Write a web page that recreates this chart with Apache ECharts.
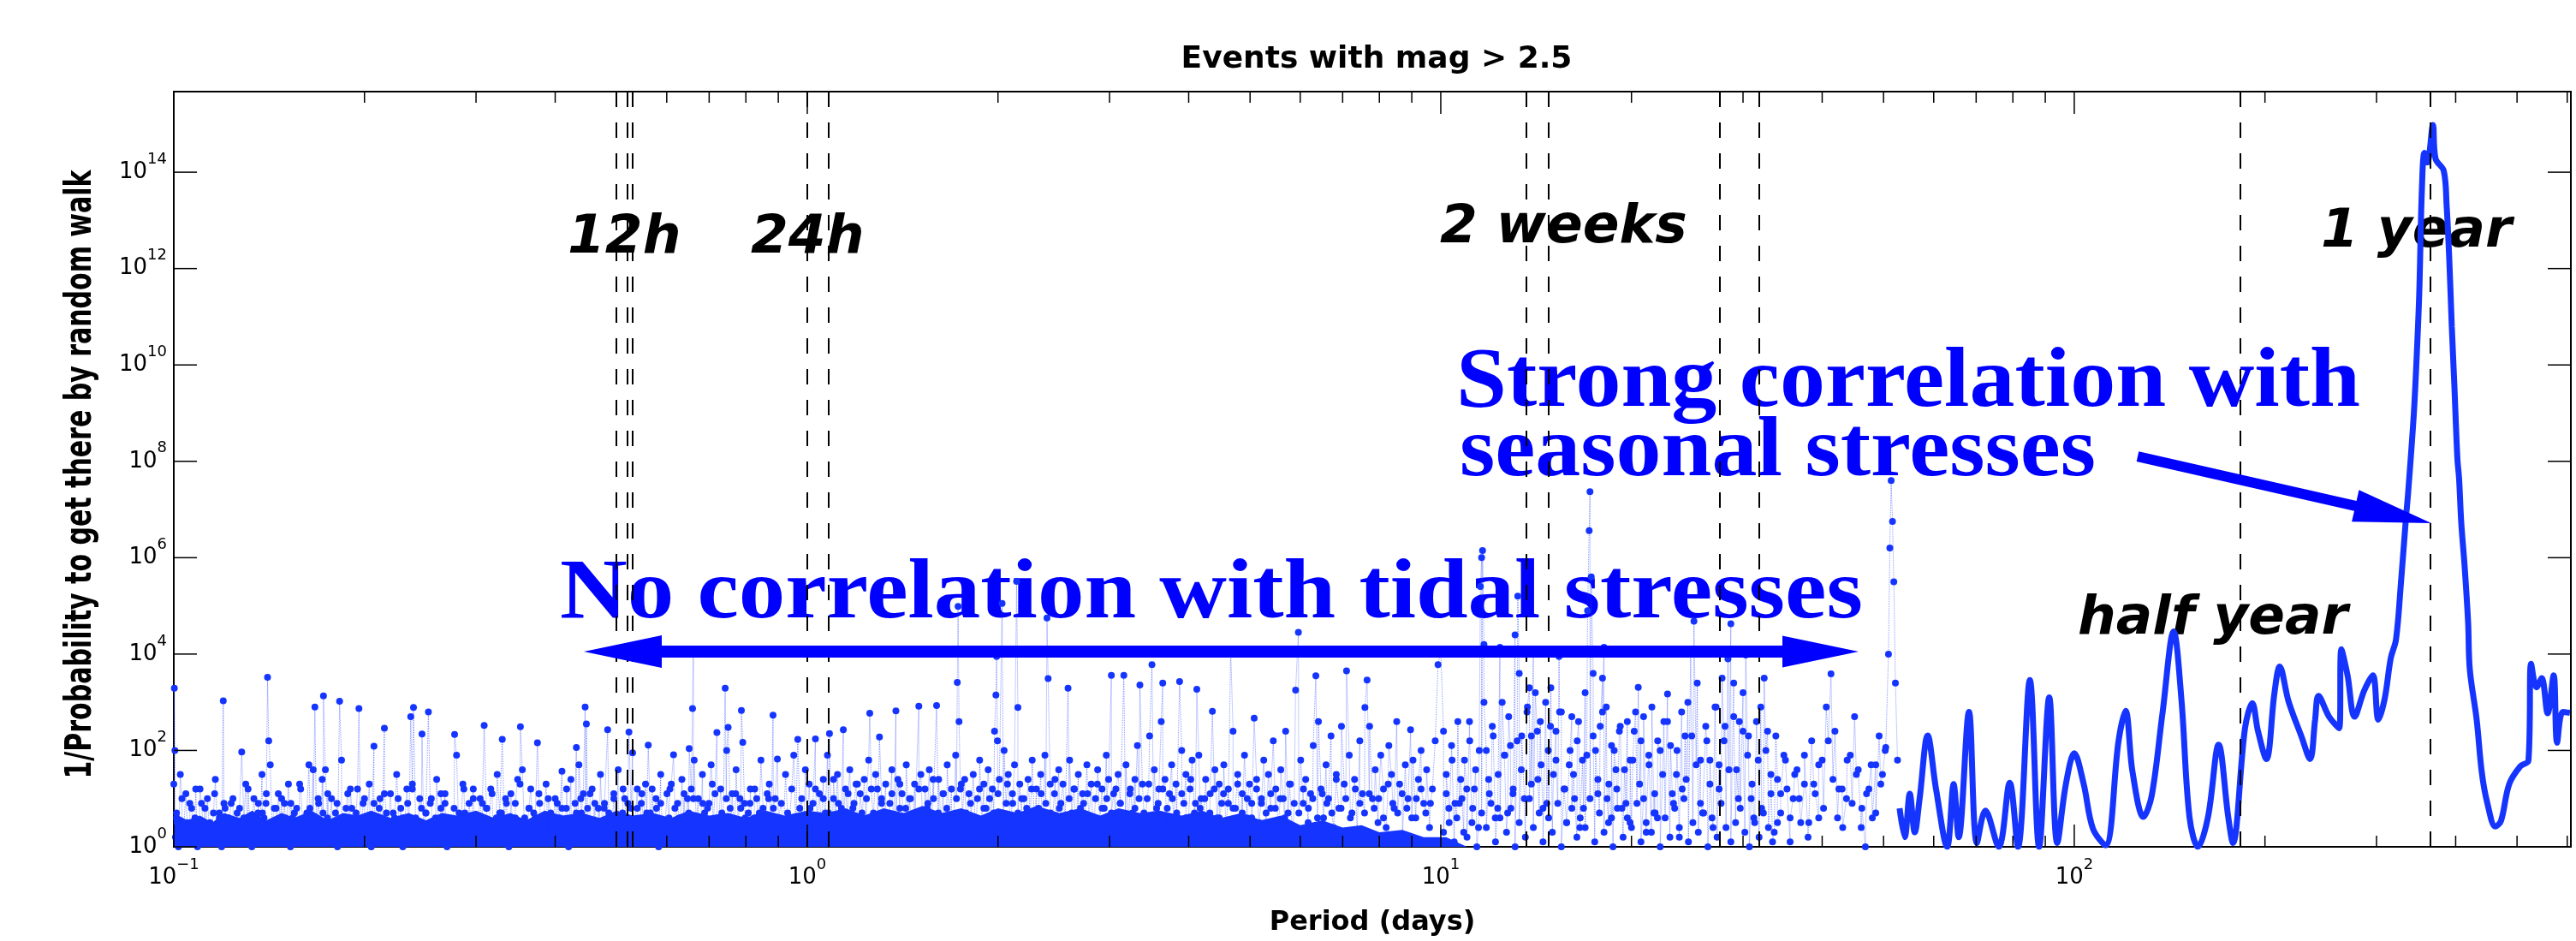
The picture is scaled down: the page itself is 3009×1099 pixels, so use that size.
<!DOCTYPE html>
<html lang="en">
<head>
  <meta charset="UTF-8">
  <title>Events with mag > 2.5</title>
  <script src="https://cdn.jsdelivr.net/npm/echarts@6/dist/echarts.min.js"></script>
  <style>
    html, body { margin: 0; padding: 0; background: #fff; }
    #main { width: 3009px; height: 1099px; }
  </style>
</head>
<body>

<div id="main"></div>

<script>
  // [period in days, log10 of 1/probability]
  var noiseShort = [
    [0.1000,1.3],[0.1002,3.29],[0.1004,2.0],[0.1006,0.2],[0.1010,0.6],[0.1017,0.0],[0.1024,1.5],[0.1031,0.3],[0.1038,0.5],[0.1045,1.1],
    [0.1052,0.1],[0.1060,0.4],[0.1067,0.8],[0.1075,0.2],[0.1083,1.2],[0.1090,0.0],[0.1098,0.5],[0.1106,0.9],[0.1114,0.3],[0.1122,0.1],
    [0.1130,1.0],[0.1138,0.4],[0.1146,0.2],[0.1155,0.7],[0.1163,1.4],[0.1172,0.3],[0.1180,0.6],[0.1190,0.0],[0.1197,3.03],[0.1205,0.8],
    [0.1214,0.2],[0.1223,0.5],[0.1232,0.9],[0.1241,0.1],[0.1250,0.4],[0.1259,0.7],[0.1268,0.3],[0.1280,1.97],[0.1290,0.6],[0.1299,1.3],
    [0.1309,0.2],[0.1318,0.5],[0.1328,0.0],[0.1338,1.0],[0.1348,0.4],[0.1358,0.7],[0.1368,0.2],[0.1378,1.5],[0.1388,0.6],[0.1398,0.9],
    [0.1406,3.52],[0.1412,2.2],[0.1420,1.7],[0.1430,0.3],[0.1441,0.8],[0.1452,0.1],[0.1462,1.1],[0.1473,0.5],[0.1484,0.2],[0.1495,0.9],
    [0.1506,0.4],[0.1517,1.3],[0.1528,0.0],[0.1540,0.6],[0.1551,0.3],[0.1563,0.8],[0.1574,0.1],[0.1586,1.2],[0.1598,0.5],[0.1610,0.2],
    [0.1622,0.7],[0.1634,1.7],[0.1646,0.4],[0.1660,1.6],[0.1670,2.9],[0.1680,0.3],[0.1693,0.9],[0.1706,0.1],[0.1715,1.4],[0.1723,3.13],
    [0.1735,1.6],[0.1748,0.6],[0.1761,0.2],[0.1774,1.0],[0.1787,0.4],[0.1800,0.7],[0.1813,0.0],[0.1827,3.02],[0.1840,1.8],[0.1854,0.5],
    [0.1868,0.2],[0.1882,1.1],[0.1896,0.3],[0.1910,0.8],[0.1924,0.1],[0.1938,0.6],[0.1950,1.2],[0.1960,2.87],[0.1975,0.4],[0.1990,0.9],
    [0.2005,0.2],[0.2020,0.6],[0.2035,1.3],[0.2050,0.0],[0.2070,2.09],[0.2085,0.5],[0.2100,0.3],[0.2116,1.0],[0.2132,0.1],[0.2150,2.46],
    [0.2166,0.7],[0.2182,0.4],[0.2198,1.1],[0.2215,0.2],[0.2231,0.6],[0.2248,1.5],[0.2265,0.3],[0.2282,0.8],[0.2299,0.0],[0.2316,0.5],
    [0.2333,1.2],[0.2350,0.2],[0.2366,2.70],[0.2380,1.3],[0.2390,2.89],[0.2408,0.6],[0.2426,0.3],[0.2445,1.0],[0.2465,2.34],[0.2480,0.4],
    [0.2500,0.7],[0.2523,2.80],[0.2540,0.9],[0.2560,0.1],[0.2580,0.5],[0.2600,1.4],[0.2620,0.2],[0.2640,0.8],[0.2660,0.4],[0.2680,1.1],
    [0.2700,0.0],[0.2720,0.6],[0.2745,0.3],[0.2775,2.33],[0.2795,1.9],[0.2815,0.5],[0.2835,0.2],[0.2860,1.3],[0.2880,0.7],[0.2900,0.1],
    [0.2925,0.9],[0.2950,0.4],[0.2970,1.2],[0.2995,0.2],[0.3020,0.6],[0.3045,1.0],[0.3070,0.3],[0.3090,2.52],[0.3115,0.8],[0.3140,0.1],
    [0.3165,1.2],[0.3190,0.5],[0.3215,0.2],[0.3240,1.5],[0.3270,0.7],[0.3300,2.23],[0.3325,0.4],[0.3350,0.9],[0.3380,0.0],[0.3405,1.1],
    [0.3430,0.3],[0.3460,0.6],[0.3490,1.4],[0.3525,2.49],[0.3550,1.6],[0.3575,0.5],[0.3605,0.2],[0.3635,0.8],[0.3660,1.2],[0.3690,0.3],
    [0.3720,0.6],[0.3750,2.16],[0.3780,0.9],[0.3810,0.2],[0.3840,0.5],[0.3870,1.3],[0.3900,0.1],[0.3935,0.7],[0.3965,0.4],[0.4000,1.0],
    [0.4030,0.2],[0.4065,0.6],[0.4100,1.57],[0.4130,0.3],[0.4165,0.8],[0.4200,0.0],[0.4235,1.4],[0.4270,0.5],[0.4300,0.9],[0.4320,2.06],
    [0.4345,0.4],[0.4360,1.7],[0.4400,0.7],[0.4430,1.1],[0.4460,2.90],[0.4480,2.55],[0.4500,0.8],[0.4540,0.3],[0.4575,1.2],[0.4610,0.5],
    [0.4645,0.1],[0.4680,0.8],[0.4715,1.5],[0.4750,0.4],[0.4785,0.9],[0.4840,2.43],[0.4875,0.6],[0.4910,0.2],[0.4950,1.1],[0.4990,0.4],
    [0.5030,1.6],[0.5070,0.3],[0.5110,0.7],[0.5150,1.0],[0.5190,0.2],[0.5230,2.38],[0.5270,0.8],[0.5300,1.95],[0.5350,0.5],[0.5390,1.2],
    [0.5430,0.1],[0.5470,0.9],[0.5510,0.4],[0.5555,1.3],[0.5610,2.11],[0.5650,0.7],[0.5690,1.2],[0.5730,0.3],[0.5780,0.8],[0.5825,0.0],
    [0.5870,1.5],[0.5915,0.5],[0.5960,0.2],[0.6005,1.1],[0.6050,0.6],[0.6100,1.3],[0.6150,1.91],[0.6195,0.4],[0.6240,0.9],[0.6290,0.2],
    [0.6340,1.4],[0.6385,0.6],[0.6430,0.3],[0.6470,1.0],[0.6510,2.04],[0.6560,1.2],[0.6590,2.87],[0.6610,4.07],[0.6630,1.8],[0.6680,0.5],
    [0.6730,1.0],[0.6780,0.2],[0.6830,1.5],[0.6885,0.7],[0.6940,0.3],[0.6995,0.9],[0.7050,1.7],[0.7100,0.4],[0.7150,1.1],[0.7200,2.37],
    [0.7250,0.6],[0.7300,1.2],[0.7360,0.2],[0.7420,3.29],[0.7460,2.0],[0.7500,2.48],[0.7555,0.8],[0.7610,1.1],[0.7665,0.3],[0.7720,1.6],
    [0.7780,0.5],[0.7830,1.0],[0.7870,2.83],[0.7910,2.17],[0.7960,0.9],[0.8020,0.3],[0.8070,0.7],[0.8130,1.2],[0.8190,0.1],[0.8250,0.6],
    [0.8320,1.0],[0.8385,0.4],[0.8450,1.8],[0.8515,0.8],[0.8580,0.4],[0.8645,1.1],[0.8710,1.3],[0.8770,0.2],[0.8830,2.73],[0.8900,1.0],
    [0.8970,1.82],[0.9040,0.6],[0.9100,0.9],[0.9170,0.3],[0.9240,1.5],[0.9310,0.7],[0.9380,0.6],[0.9450,1.2],[0.9520,1.9],[0.9590,0.4],
    [0.9660,2.23],[0.9730,0.8],[0.9800,1.0],[0.9870,0.2],[0.9930,1.6]
  ];

  var noiseMid = [
    [1.000,0.5],[1.007,1.3],[1.014,0.2],[1.021,0.9],[1.030,2.24],[1.037,0.6],[1.045,1.1],[1.052,0.3],[1.060,1.4],[1.068,0.7],
    [1.076,1.9],[1.084,2.35],[1.092,0.4],[1.100,1.0],[1.108,0.6],[1.116,1.5],[1.124,0.2],[1.132,0.8],[1.140,2.43],[1.149,1.2],
    [1.158,0.5],[1.167,1.6],[1.176,0.3],[1.185,0.9],[1.194,1.3],[1.203,0.1],[1.212,1.1],[1.221,0.6],[1.230,1.4],[1.240,0.4],
    [1.250,1.8],[1.255,2.77],[1.262,1.2],[1.272,0.7],[1.282,1.5],[1.292,0.3],[1.300,2.28],[1.310,1.0],[1.320,0.6],[1.330,1.3],
    [1.340,0.2],[1.350,0.9],[1.360,1.6],[1.370,0.5],[1.380,2.82],[1.390,1.4],[1.400,0.8],[1.411,1.1],[1.422,0.3],[1.433,1.7],
    [1.444,0.6],[1.455,1.0],[1.466,0.2],[1.477,1.3],[1.488,0.7],[1.500,2.92],[1.511,1.5],[1.522,0.4],[1.534,1.2],[1.546,0.8],
    [1.558,1.6],[1.570,0.3],[1.582,1.0],[1.600,2.93],[1.612,1.4],[1.625,0.5],[1.638,1.1],[1.650,0.2],[1.663,1.7],[1.676,0.6],
    [1.689,1.2],[1.702,0.4],[1.715,1.9],[1.725,3.41],[1.730,4.99],[1.736,2.6],[1.745,1.2],[1.758,0.7],[1.772,1.4],[1.786,0.3],
    [1.800,1.1],[1.814,0.6],[1.828,1.5],[1.842,0.2],[1.856,1.0],[1.871,1.8],[1.886,0.5],[1.900,1.3],[1.915,0.8],[1.930,1.6],
    [1.945,0.4],[1.960,1.2],[1.975,2.4],[1.985,3.15],[1.990,3.95],[1.996,2.2],[2.010,1.4],[2.030,5.05],[2.045,2.0],[2.060,0.9],
    [2.076,1.5],[2.092,0.3],[2.108,1.1],[2.124,1.7],[2.140,5.51],[2.150,2.89],[2.165,1.3],[2.180,0.6],[2.197,1.0],[2.214,0.2],
    [2.231,1.4],[2.248,0.7],[2.265,1.8],[2.283,0.4],[2.300,1.2],[2.318,0.8],[2.336,1.5],[2.354,0.3],[2.372,1.9],[2.390,4.75],
    [2.400,3.49],[2.418,1.3],[2.437,0.6],[2.456,1.1],[2.475,0.2],[2.494,1.6],[2.513,0.9],[2.533,1.3],[2.553,0.5],[2.580,3.29],
    [2.595,1.8],[2.615,0.7],[2.636,1.2],[2.657,0.3],[2.678,1.5],[2.699,0.8],[2.720,1.1],[2.741,0.4],[2.763,1.7],[2.785,0.6],
    [2.807,1.3],[2.829,0.2],[2.851,1.0],[2.873,1.6],[2.896,0.5],[2.919,1.2],[2.942,0.8],[2.965,1.9],[2.990,1.4],[3.020,3.56],
    [3.045,1.1],[3.070,0.6],[3.095,1.5],[3.120,0.9],[3.160,3.56],[3.185,1.7],[3.210,0.4],[3.235,1.2],[3.260,0.7],[3.290,1.4],
    [3.320,2.1],[3.350,3.36],[3.380,1.3],[3.410,0.5],[3.440,1.0],[3.470,2.3],[3.500,3.78],[3.530,1.6],[3.560,0.8],[3.590,1.2],
    [3.620,2.6],[3.640,3.40],[3.670,1.4],[3.700,0.3],[3.730,1.1],[3.760,1.7],[3.790,0.6],[3.820,1.3],[3.870,3.43],[3.900,2.0],
    [3.930,0.9],[3.960,1.5],[3.990,0.4],[4.020,1.2],[4.050,1.8],[4.085,0.7],[4.120,3.27],[4.150,1.9],[4.185,1.0],[4.220,0.5],
    [4.255,1.4],[4.290,0.2],[4.325,1.1],[4.360,2.81],[4.400,1.6],[4.435,0.6],[4.470,1.3],[4.510,0.9],[4.545,1.7],[4.580,0.3],
    [4.620,1.2],[4.660,4.10],[4.700,2.4],[4.740,0.8],[4.780,1.5],[4.820,0.4],[4.860,1.1],[4.900,1.9],[4.945,0.6],[4.990,1.3],
    [5.030,0.9],[5.075,2.67],[5.120,1.4],[5.165,0.5],[5.210,1.0],[5.255,1.8],[5.300,0.3],[5.345,1.5],[5.390,0.8],[5.440,2.2],
    [5.490,1.2],[5.540,0.4],[5.590,1.6],[5.640,1.0],[5.690,2.4],[5.740,0.7],[5.790,1.3],[5.840,0.2],[5.900,3.25],[5.960,4.45],
    [6.010,1.8],[6.065,0.9],[6.120,1.4],[6.175,0.5],[6.230,1.1],[6.290,2.1],[6.350,3.55],[6.410,2.6],[6.470,1.2],[6.530,0.6],
    [6.590,1.7],[6.650,1.0],[6.710,2.3],[6.775,0.4],[6.840,1.5],[6.905,0.8],[6.970,2.5],[7.040,1.3],[7.100,3.65],[7.170,1.9],
    [7.240,0.7],[7.310,1.4],[7.380,0.3],[7.450,2.2],[7.520,1.1],[7.590,2.89],[7.650,3.46],[7.720,2.5],[7.800,1.0],[7.880,1.6],
    [7.960,0.5],[8.040,1.9],[8.120,1.2],[8.200,0.4],[8.280,2.1],[8.360,1.5],[8.440,0.8],[8.520,2.6],[8.610,1.3],[8.700,0.2],
    [8.790,1.7],[8.880,1.0],[8.960,2.43],[9.040,1.8],[9.130,0.6],[9.220,1.4],[9.310,2.0],[9.400,0.9],[9.500,1.6],[9.600,0.4],
    [9.700,1.2],[9.800,2.2],[9.900,3.78],[10.00,4.10]
  ];

  var noiseLong = [
    [10.10,2.4],[10.20,1.1],[10.31,0.5],[10.42,1.8],[10.53,0.9],[10.64,2.6],[10.75,1.4],[10.87,0.3],[10.99,1.2],[11.11,2.2],
    [11.23,0.8],[11.35,1.6],[11.47,0.4],[11.55,5.4],[11.60,6.0],[11.64,6.15],[11.70,4.2],[11.80,2.0],[11.93,1.1],[12.06,2.5],
    [12.19,0.6],[12.32,1.5],[12.40,4.14],[12.50,3.0],[12.62,1.9],[12.75,0.7],[12.88,2.1],[13.01,1.2],[13.10,4.4],[13.23,5.20],
    [13.30,3.6],[13.42,2.3],[13.55,1.0],[13.68,2.8],[13.80,3.3],[13.90,2.3],[14.00,4.02],[14.10,3.2],[14.23,1.4],[14.36,2.6],
    [14.50,0.8],[14.64,3.0],[14.78,2.0],[14.92,3.3],[15.06,1.5],[15.20,2.4],[15.37,3.95],[15.50,2.8],[15.65,1.2],[15.80,0.5],
    [15.95,1.7],[16.10,2.7],[16.26,1.0],[16.42,2.2],[16.58,0.4],[16.74,1.8],[16.90,3.2],[17.05,4.9],[17.15,6.56],[17.20,7.37],
    [17.28,5.6],[17.40,3.6],[17.55,2.0],[17.70,1.1],[17.85,2.5],[18.00,3.5],[18.10,4.14],[18.25,2.9],[18.42,1.3],[18.60,0.6],
    [18.78,2.0],[18.96,1.2],[19.14,2.4],[19.32,0.8],[19.50,1.6],[19.70,2.6],[19.90,0.5],[20.10,1.8],[20.30,2.8],[20.50,3.31],
    [20.70,2.2],[20.90,1.0],[21.10,0.3],[21.32,1.7],[21.54,2.9],[21.76,1.1],[21.98,0.6],[22.20,2.0],[22.50,2.6],[22.80,3.17],
    [23.05,2.1],[23.30,0.9],[23.55,1.5],[23.80,0.2],[24.05,1.2],[24.30,2.3],[24.55,3.0],[24.80,4.0],[25.10,4.68],[25.40,3.4],
    [25.70,1.8],[26.00,0.7],[26.30,2.2],[26.60,1.3],[26.90,0.4],[27.20,2.9],[27.50,1.7],[27.80,3.5],[28.10,2.5],[28.40,3.9],
    [28.70,4.63],[29.00,3.4],[29.30,1.6],[29.60,2.6],[30.00,3.2],[30.30,3.98],[30.60,2.3],[30.90,1.0],[31.30,0.5],[31.70,1.8],
    [32.00,2.9],[32.40,3.50],[32.80,2.4],[33.20,1.1],[33.60,0.3],[34.00,1.4],[34.40,0.7],[34.80,1.9],[35.20,1.2],[35.60,0.1],
    [36.00,1.0],[36.50,1.6],[37.00,0.5],[37.50,1.3],[38.00,0.2],[38.50,2.2],[39.00,1.1],[39.50,0.6],[40.00,1.8],[40.60,2.9],
    [41.30,3.59],[41.90,2.4],[42.50,1.2],[43.10,0.4],[43.70,1.0],[44.30,1.9],[45.00,2.70],[45.60,1.6],[46.20,0.8],[46.80,0.0],
    [47.40,1.2],[48.00,0.6],[48.60,1.7],[49.20,2.3],[49.80,1.5],[50.40,2.06],[50.90,4.0],[51.15,6.2],[51.40,7.60],[51.65,6.75],
    [51.90,5.5],[52.20,3.4],[52.60,1.8]
  ];

  // the crowded upper edge of the point cloud (periods, log10 values)
  var floorShortPeriods = [0.101,0.103,0.105,0.106,0.108,0.110,0.112,0.114,0.116,0.118,0.120,0.122,0.124,0.127,0.129,0.131,0.133,0.136,0.138,0.140,
    0.143,0.145,0.148,0.150,0.153,0.155,0.158,0.161,0.164,0.166,0.169,0.172,0.175,0.178,0.181,0.184,0.187,0.190,0.194,0.197,
    0.200,0.204,0.207,0.211,0.215,0.218,0.222,0.226,0.230,0.234,0.238,0.242,0.246,0.250,0.255,0.259,0.264,0.268,0.273,0.277,
    0.282,0.287,0.292,0.297,0.302,0.307,0.312,0.318,0.323,0.329,0.334,0.340,0.346,0.352,0.358,0.364,0.370,0.377,0.383,0.390,
    0.396,0.403,0.410,0.417,0.424,0.432,0.439,0.447,0.454,0.462,0.470,0.478,0.486,0.495,0.503,0.512,0.521,0.530,0.539,0.548,
    0.558,0.567,0.577,0.587,0.597,0.607,0.618,0.628,0.639,0.650,0.661,0.673,0.684,0.696,0.708,0.720,0.733,0.745,0.758,0.771,
    0.785,0.798,0.812,0.826,0.840,0.855,0.869,0.884,0.900,0.915,0.931,0.947,0.963,0.980,0.997];
  var floorShortLog = [0.7,1.0,0.5,0.9,0.6,1.2,0.8,0.5,1.1,0.7,
    0.9,0.6,1.0,0.8,0.5,1.2,0.6,0.9,0.7,1.1,
    0.5,0.8,1.0,0.6,0.9,0.7,1.3,0.5,0.8,0.6,
    1.0,0.7,1.1,0.5,0.9,0.6,0.8,1.2,0.7,0.5,
    1.0,0.6,0.9,0.8,1.1,0.5,0.7,1.0,0.6,0.9,
    1.2,0.5,0.8,0.7,1.0,0.6,1.1,0.9,0.5,0.8,
    0.7,1.2,0.6,1.0,0.5,0.9,0.8,1.1,0.6,0.7,
    1.0,0.5,0.9,1.3,0.6,0.8,0.7,1.1,0.5,1.0,
    0.6,0.9,0.8,1.2,0.5,0.7,1.0,0.6,1.1,0.9,
    0.5,0.8,0.7,1.0,0.6,1.2,0.9,0.5,0.8,1.1,
    0.7,0.6,1.0,0.9,0.5,1.2,0.8,0.6,1.1,0.7,
    1.0,0.5,0.9,0.8,1.3,0.6,0.7,1.0,0.5,1.1,
    0.8,0.6,0.9,1.2,0.7,0.5,1.0,0.8,0.6];

  var floorMidPeriods = [1.01,1.03,1.05,1.06,1.08,1.10,1.12,1.14,1.16,1.18,1.20,1.22,1.24,1.27,1.29,1.31,1.33,1.36,1.38,1.40,
    1.43,1.45,1.48,1.50,1.53,1.55,1.58,1.61,1.64,1.66,1.69,1.72,1.75,1.78,1.81,1.84,1.87,1.90,1.94,1.97,
    2.00,2.04,2.07,2.11,2.15,2.18,2.22,2.26,2.30,2.34,2.38,2.42,2.46,2.50,2.55,2.59,2.64,2.68,2.73,2.77,
    2.82,2.87,2.92,2.97,3.02,3.07,3.12,3.18,3.23,3.29,3.34,3.40,3.46,3.52,3.58,3.64,3.70,3.77,3.83,3.90,
    3.96,4.03,4.10,4.17,4.24,4.32,4.39,4.47,4.54,4.62,4.70,4.78,4.86,4.95,5.03,5.12,5.21,5.30,5.39,5.48,
    5.58,5.67,5.77,5.87,5.97,6.07,6.18,6.28,6.39,6.50,6.61,6.73,6.84,6.96,7.08,7.20,7.33,7.45,7.58,7.71,
    7.85,7.98,8.12,8.26,8.40,8.55,8.69,8.84,9.00,9.15,9.31,9.47,9.63,9.80,9.97];
  var floorMidLog = [0.8,1.2,0.6,1.0,0.7,1.4,0.9,0.6,1.1,0.8,
    1.3,0.7,1.0,0.6,1.2,0.9,0.7,1.1,0.6,1.3,
    0.8,1.0,0.7,1.2,0.6,0.9,1.4,0.7,1.1,0.8,
    0.6,1.0,1.3,0.7,0.9,0.6,1.2,0.8,1.0,0.7,
    1.1,0.6,1.3,0.9,0.7,1.0,0.8,1.2,0.6,1.1,
    0.9,0.7,1.4,0.8,0.6,1.0,1.2,0.7,0.9,1.1,
    0.6,1.3,0.8,1.0,0.7,1.2,0.9,0.6,1.1,0.8,
    1.0,0.7,1.3,0.6,0.9,1.2,0.8,1.0,0.7,1.1,
    0.6,1.4,0.9,0.8,1.0,0.7,1.2,0.6,1.1,0.9,
    0.8,1.3,0.7,1.0,0.6,1.2,0.9,0.7,1.1,0.8,
    1.0,0.6,1.3,0.9,0.7,1.2,0.8,1.0,0.6,1.1,
    0.9,0.7,1.4,0.8,1.0,0.6,1.2,0.9,0.7,1.1,
    0.8,1.0,0.6,1.3,0.9,0.7,1.1,0.8,0.6,1.0,
    1.2,0.7,0.9];

  var floorLongPeriods = [10.1,10.3,10.5,10.6,10.8,11.0,11.2,11.4,11.6,11.8,12.0,12.2,12.4,12.7,12.9,13.1,13.3,13.6,13.8,14.0,
    14.3,14.5,14.8,15.0,15.3,15.5,15.8,16.1,16.4,16.6,16.9,17.2,17.5,17.8,18.1,18.4,18.7,19.0,19.4,19.7,
    20.0,20.4,20.7,21.1,21.5,21.8,22.2,22.6,23.0,23.4,23.8,24.2,24.6,25.0,25.5,25.9,26.4,26.8,27.3,27.7,
    28.2,28.7,29.2,29.7,30.2,30.7,31.2,31.8,32.3,32.9,33.4,34.0];
  var floorLongLog = [0.3,0.8,0.1,0.6,1.0,0.2,0.5,0.0,0.7,0.4,0.9,0.1,0.6,0.3,0.8,0.0,0.5,0.2,1.0,0.4,
    0.7,0.1,0.6,0.3,0.9,0.0,0.5,0.8,0.2,0.6,0.4,1.0,0.1,0.7,0.3,0.5,0.0,0.8,0.2,0.6,
    0.4,0.9,0.1,0.5,0.3,0.7,0.0,0.6,0.2,0.8,0.4,1.0,0.1,0.5,0.3,0.7,0.0,0.6,0.2,0.9,
    0.4,0.1,0.5,0.8,0.3,0.0,0.6,0.2,0.7,0.4,0.1,0.5];

  // dot chains between 10 and 50 days (periods, log10 values)
  var chainLongPeriods = [10.2,10.4,10.7,10.9,11.1,11.3,11.5,11.7,11.9,12.1,12.3,12.6,12.8,13.0,13.2,13.4,13.7,13.9,14.2,14.4,
    14.7,14.9,15.2,15.4,15.7,16.0,16.2,16.5,16.8,17.0,17.4,17.7,18.0,18.3,18.6,18.9,19.2,19.6,19.9,20.2,
    20.6,20.9,21.3,21.7,22.0,22.4,22.8,23.2,23.6,24.0,24.4,24.9,25.3,25.7,26.2,26.6,27.1,27.5,28.0,28.5,
    29.0,29.5,30.0,30.5,31.0,31.5,32.1,32.6,33.2,33.8,34.4,35.0,35.6,36.2,36.8,37.5,38.1,38.8,39.5,40.2,
    40.9,41.6,42.3,43.0,43.8,44.6,45.3,46.1,47.0,47.8,48.6,49.5,50.3];
  var chainLongLog = [1.5,2.1,0.9,1.8,2.6,1.2,2.0,3.0,1.4,2.3,0.8,1.9,2.7,1.1,2.2,1.6,2.9,1.3,2.4,1.7,
    0.9,2.5,1.8,2.8,1.2,2.0,1.5,2.6,0.8,1.9,2.3,1.4,2.8,1.0,2.1,1.6,2.5,0.9,1.8,2.4,
    1.3,2.7,1.9,0.7,2.2,1.5,2.6,1.1,2.0,2.8,1.4,2.3,1.7,0.9,2.5,1.8,2.9,1.2,2.2,1.6,
    2.7,1.0,2.4,1.9,1.3,2.6,0.8,2.0,1.5,2.3,1.1,1.8,0.6,1.5,1.0,1.9,0.5,1.3,1.7,0.8,
    2.2,1.4,0.6,1.2,1.8,0.9,1.5,0.4,1.1,1.7,0.7,1.3,2.0];

  // top of the saturated part of the point cloud (period, log10 value)
  var solidTop = [
    [0.100,0.70],[0.105,0.55],[0.110,0.65],[0.115,0.50],[0.120,0.70],[0.127,0.60],[0.133,0.75],[0.140,0.55],[0.148,0.70],[0.155,0.60],
    [0.165,0.75],[0.175,0.55],[0.185,0.70],[0.195,0.65],[0.205,0.75],[0.220,0.60],[0.235,0.70],[0.250,0.55],[0.265,0.70],[0.280,0.65],
    [0.300,0.75],[0.320,0.60],[0.340,0.70],[0.360,0.55],[0.385,0.75],[0.410,0.65],[0.440,0.70],[0.470,0.60],[0.500,0.75],[0.530,0.65],
    [0.570,0.70],[0.610,0.60],[0.650,0.75],[0.700,0.65],[0.750,0.70],[0.800,0.60],[0.860,0.75],[0.920,0.65],[1.000,0.75],[1.070,0.70],
    [1.150,0.80],[1.230,0.65],[1.320,0.80],[1.420,0.70],[1.520,0.85],[1.630,0.70],[1.750,0.80],[1.880,0.65],[2.000,0.80],[2.150,0.70],
    [2.300,0.85],[2.500,0.70],[2.700,0.80],[2.900,0.65],[3.100,0.80],[3.350,0.70],[3.600,0.75],[3.900,0.65],[4.200,0.75],[4.500,0.60],
    [4.850,0.70],[5.200,0.55],[5.600,0.65],[6.000,0.45],[6.500,0.55],[7.000,0.40],[7.500,0.45],[8.000,0.30],[8.700,0.35],[9.400,0.20],
    [10.20,0.20],[11.00,0.00]
  ];

  var smoothLong = [
    [53.0,0.8],[54.0,0.2],[55.0,1.1],[56.0,0.3],[57.0,1.0],[58.7,2.31],[60.5,1.2],[63.0,0.0],[64.5,1.3],[65.7,0.2],
    [68.2,2.80],[70.2,0.08],[72.4,0.75],[76.0,0.0],[79.1,1.33],[81.5,0.0],[85.1,3.46],[88.0,0.0],[91.3,3.10],[94.0,0.08],
    [97.0,1.3],[100.0,1.94],[103.5,1.3],[107.0,0.38],[112.0,0.03],[117.5,2.21],[120.5,2.82],[123.6,1.55],[128.6,0.62],[132.5,1.06],
    [137.8,2.77],[143.5,4.47],[147.6,3.07],[152.0,0.62],[156.8,0.0],[162.6,0.62],[169.0,2.12],[175.0,0.62],[178.0,0.08],[186.0,2.46],
    [191.0,2.98],[195.0,2.40],[201.0,1.82],[207.0,3.19],[211.0,3.74],[218.0,3.01],[228.5,2.28],[235.6,1.82],[240.0,2.64],[243.0,3.13],
    [252.5,2.70],[262.0,2.46],[264.0,4.10],[270.0,3.56],[277.0,2.70],[287.0,3.25],[296.0,3.56],[302.0,2.64],[309.0,3.07],[316.0,3.92],
    [322.0,4.30],[328.0,5.51],[334.0,6.85],[336.5,7.34],[343.5,8.97],[347.2,10.19],[350.4,11.48],[353.7,13.6],[357.0,14.4],[360.9,14.2],
    [368.3,14.98],[371.8,14.28],[383.0,14.03],[387.1,13.3],[390.8,12.2],[394.4,10.8],[398.1,9.58],[402.5,8.06],[405.0,7.64],[408.2,6.73],
    [413.3,5.81],[418.5,4.66],[421.1,3.68],[431.7,2.64],[439.8,1.55],[448.2,0.94],[462.3,0.42],[471.7,0.54],[485.9,1.30],[505.9,1.67],
    [521.1,1.79],[526.2,3.80],[536.7,3.31],[546.8,3.50],[558.8,2.77],[571.2,3.56],[578.3,2.16],[590.3,2.80],[605.9,2.78]
  ];

  // tidal / seasonal periods marked by dashed lines (days)
  var markedPeriods = [0.5, 0.5175, 0.5274, 0.9973, 1.0758, 13.66, 14.77, 27.55, 31.81, 182.62, 365.26];

  // axis ticks and their exponent labels
  var xMajorTicks = [0.1, 1, 10, 100];
  var xMajorLabels = ['\u22121', '0', '1', '2'];
  var xMinorTicks = [0.2, 0.3, 0.4, 0.5, 0.6, 0.7, 0.8, 0.9, 2, 3, 4, 5, 6, 7, 8, 9,
    20, 30, 40, 50, 60, 70, 80, 90, 200, 300, 400, 500, 600];
  var yMajorTicks = [1, 1e2, 1e4, 1e6, 1e8, 1e10, 1e12, 1e14];
  var yMajorLabels = ['0', '2', '4', '6', '8', '10', '12', '14'];

  var BLUE_DOT = '#1535ff';
  var BLUE = '#0000ff';

  function zip(periods, logs) {
    var out = [];
    for (var i = 0; i < Math.min(periods.length, logs.length); i++) out.push([periods[i], logs[i]]);
    return out;
  }

  function toValues(rows) {
    return rows.map(function (r) { return [r[0], Math.pow(10, r[1])]; });
  }

  var noiseRows = noiseShort.concat(noiseMid, noiseLong,
    zip(floorShortPeriods, floorShortLog), zip(floorMidPeriods, floorMidLog),
    zip(floorLongPeriods, floorLongLog), zip(chainLongPeriods, chainLongLog));
  noiseRows.sort(function (a, b) { return a[0] - b[0]; });
  var noiseData = toValues(noiseRows);
  var smoothData = toValues(smoothLong);
  var solidData = toValues(solidTop);

  var tickRows = [];
  var tickText = [];
  xMajorTicks.forEach(function (v, i) { tickRows.push([v, 1, 0]); tickText.push(xMajorLabels[i]); });
  xMinorTicks.forEach(function (v) { tickRows.push([v, 1, 1]); tickText.push(''); });
  yMajorTicks.forEach(function (v, i) { tickRows.push([0.1, v, 2]); tickText.push(yMajorLabels[i]); });

  var labelRich = {
    b: { fontFamily: 'DejaVu Sans', fontSize: 26, color: '#000', lineHeight: 48 },
    s: { fontFamily: 'DejaVu Sans', fontSize: 18, color: '#000', verticalAlign: 'top', lineHeight: 48 }
  };

  function renderTicks(params, api) {
    var cs = params.coordSys;
    var kind = api.value(2);
    var pt = api.coord([api.value(0), api.value(1)]);
    var st = { stroke: '#000', lineWidth: 1.5 };
    var kids = [];
    var label = tickText[params.dataIndex];
    if (kind < 2) {
      var len = kind === 0 ? 26 : 13;
      var bottom = cs.y + cs.height, top = cs.y;
      kids.push({ type: 'line', shape: { x1: pt[0], y1: bottom, x2: pt[0], y2: bottom - len }, style: st });
      kids.push({ type: 'line', shape: { x1: pt[0], y1: top, x2: pt[0], y2: top + len }, style: st });
      if (kind === 0) {
        kids.push({ type: 'text', x: pt[0], y: bottom + 36,
          style: { text: '{b|10}{s|' + label + '}', rich: labelRich, align: 'center', verticalAlign: 'middle' } });
      }
    } else {
      var left = cs.x, right = cs.x + cs.width;
      kids.push({ type: 'line', shape: { x1: left, y1: pt[1], x2: left + 27, y2: pt[1] }, style: st });
      kids.push({ type: 'line', shape: { x1: right, y1: pt[1], x2: right - 27, y2: pt[1] }, style: st });
      kids.push({ type: 'text', x: left - 8, y: pt[1],
        style: { text: '{b|10}{s|' + label + '}', rich: labelRich, align: 'right', verticalAlign: 'middle' } });
    }
    return { type: 'group', children: kids };
  }

  var boldItalic = 'italic bold 63px "DejaVu Sans"';
  var serifBold = 'bold 100px "Liberation Serif"';

  var chart = echarts.init($('#main'));
  chart.setOption({
    animation: false,
    backgroundColor: '#fff',
    title: {
      text: 'Events with mag > 2.5',
      left: 1603,
      top: 47,
      textAlign: 'center',
      textStyle: { fontFamily: 'DejaVu Sans', fontWeight: 'bold', fontSize: 36, color: '#000' }
    },
    grid: { left: 203, right: 6, top: 107, bottom: 92, show: true, borderColor: '#000', borderWidth: 2, backgroundColor: 'transparent' },
    xAxis: {
      type: 'log',
      logBase: 10,
      min: 0.1,
      max: 608,
      name: 'Period (days)',
      nameLocation: 'middle',
      nameGap: 73,
      nameTextStyle: { fontFamily: 'DejaVu Sans', fontWeight: 'bold', fontSize: 32, color: '#000' },
      axisLine: { show: false },
      axisTick: { show: false },
      axisLabel: { show: false },
      splitLine: { show: false }
    },
    yAxis: {
      type: 'log',
      logBase: 10,
      min: 1,
      max: 4.7e15,
      axisLine: { show: false },
      axisTick: { show: false },
      axisLabel: { show: false },
      splitLine: { show: false }
    },
    graphic: [
      {
        type: 'text', x: 95, y: 554, rotation: Math.PI / 2, scaleY: 1.45,
        style: { text: '1/Probability to get there by random walk', font: 'bold 30px "DejaVu Sans"', fill: '#000', align: 'center', verticalAlign: 'middle' }
      },
      { type: 'text', x: 663, y: 279, style: { text: '12h', font: boldItalic, fill: '#000', verticalAlign: 'middle' } },
      { type: 'text', x: 877, y: 279, style: { text: '24h', font: boldItalic, fill: '#000', verticalAlign: 'middle' } },
      { type: 'text', x: 1682, y: 267, style: { text: '2 weeks', font: boldItalic, fill: '#000', verticalAlign: 'middle' } },
      { type: 'text', x: 2711, y: 272, style: { text: '1 year', font: boldItalic, fill: '#000', verticalAlign: 'middle' } },
      { type: 'text', x: 2427, y: 724, style: { text: 'half year', font: boldItalic, fill: '#000', verticalAlign: 'middle' } },
      { type: 'text', x: 654, y: 695, scaleX: 1.09, style: { text: 'No correlation with tidal stresses', font: serifBold, fill: BLUE, verticalAlign: 'middle' } },
      { type: 'text', x: 1701, y: 448, scaleX: 1.06, style: { text: 'Strong correlation with', font: serifBold, fill: BLUE, verticalAlign: 'middle' } },
      { type: 'text', x: 1705, y: 529, scaleX: 1.06, style: { text: 'seasonal stresses', font: serifBold, fill: BLUE, verticalAlign: 'middle' } },
      // double arrow under the tidal text
      {
        type: 'polygon', z: 100,
        shape: { points: [[682, 761], [773, 742], [773, 754], [2082, 754], [2082, 742.5], [2171, 761], [2082, 779.5], [2082, 768], [773, 768], [773, 780]] },
        style: { fill: BLUE }
      },
      // arrow to the yearly peak
      {
        type: 'polygon', z: 100,
        shape: { points: [[2498.3, 527.2], [2752.6, 585.0], [2755.5, 572.3], [2840, 611], [2747.1, 609.3], [2750.0, 596.7], [2495.7, 538.9]] },
        style: { fill: BLUE }
      }
    ],
    series: [
      {
        name: 'saturated floor',
        type: 'line',
        data: solidData,
        symbol: 'none',
        lineStyle: { width: 0, opacity: 0 },
        areaStyle: { color: BLUE_DOT, opacity: 1, origin: 'start' },
        silent: true,
        z: 1
      },
      {
        name: 'noise',
        type: 'line',
        data: noiseData,
        symbol: 'circle',
        symbolSize: 8,
        showAllSymbol: true,
        itemStyle: { color: BLUE_DOT },
        lineStyle: { color: BLUE_DOT, width: 1, type: 'dotted', opacity: 0.5 },
        silent: true,
        z: 2
      },
      {
        name: 'long periods',
        type: 'line',
        data: smoothData,
        symbol: 'none',
        smooth: 0.35,
        lineStyle: { color: BLUE_DOT, width: 7 },
        silent: true,
        z: 2
      },
      {
        name: 'marked periods',
        type: 'line',
        data: [],
        silent: true,
        z: 4,
        markLine: {
          silent: true,
          symbol: ['none', 'none'],
          label: { show: false },
          lineStyle: { color: '#000', width: 2, type: [18, 18] },
          data: markedPeriods.map(function (p) { return { xAxis: p }; })
        }
      },
      {
        name: 'ticks',
        type: 'custom',
        data: tickRows,
        renderItem: renderTicks,
        silent: true,
        z: 5
      }
    ]
  });

  function $(dom) {
    return document.querySelector(dom)
  }
</script>
</body>
</html>
